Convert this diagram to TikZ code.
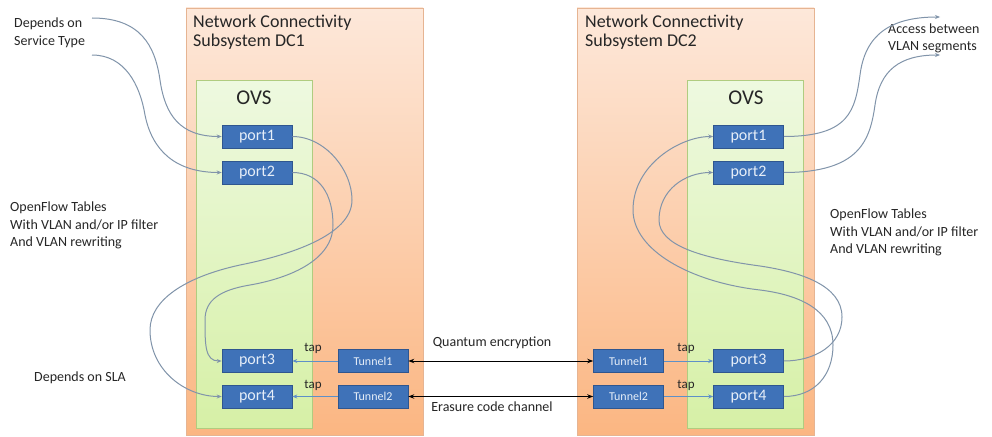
\documentclass[tikz,border=0pt]{standalone}
\usepackage{fontspec}
\setmainfont{Carlito}
\usetikzlibrary{arrows.meta}
\definecolor{portfill}{HTML}{3F72B8}
\definecolor{portline}{HTML}{2F568F}
\definecolor{porttext}{HTML}{E6EEF8}
\definecolor{flow}{HTML}{8194AA}
\definecolor{taplink}{HTML}{5E90C8}
\definecolor{ncstop}{HTML}{FDE8DA}
\definecolor{ncsbot}{HTML}{FBB682}
\definecolor{ncsline}{HTML}{E6B492}
\definecolor{ovstop}{HTML}{EEF9E0}
\definecolor{ovsbot}{HTML}{D6F0A6}
\definecolor{ovsline}{HTML}{B0CC80}
\tikzset{
  ncs/.style={draw=ncsline, line width=0.6pt, top color=ncstop, bottom color=ncsbot},
  ovs/.style={draw=ovsline, line width=0.8pt, top color=ovstop, bottom color=ovsbot},
  portbox/.style={draw=portline, fill=portfill, text=porttext, line width=0.6pt,
    minimum width=70pt, minimum height=23pt, inner sep=0pt,
    font=\fontsize{16}{18}\selectfont},
  tunbox/.style={portbox, font=\fontsize{12}{14}\selectfont},
  note/.style={align=left, inner sep=0pt, text=black!85, font=\fontsize{14}{17.5}\selectfont},
  title/.style={align=left, inner sep=0pt, text=black!85, font=\fontsize{18}{19}\selectfont},
  ovslabel/.style={inner sep=0pt, text=black!85, font=\fontsize{21}{23}\selectfont},
  taplabel/.style={inner sep=0pt, text=black!85, font=\fontsize{13}{15}\selectfont},
  flowline/.style={draw=flow, line width=1pt, -{Stealth[length=5pt,width=4pt]}},
  tapline/.style={draw=taplink, line width=1pt, -{Stealth[length=5pt,width=4pt]}},
  channel/.style={draw=black, line width=1pt,
    {Stealth[length=6pt,width=4.5pt]}-{Stealth[length=6pt,width=4.5pt]}}
}
\begin{document}
\begin{tikzpicture}[x=1pt, y=-1pt]
\useasboundingbox (0,0) rectangle (992,436);
\fill[white] (0,0) rectangle (992,436);

% subsystem and switch frames
\path[ncs] (186,8) rectangle (423,435);
\path[ncs] (577,8) rectangle (814,435);
\path[ovs] (196,80) rectangle (312,428);
\path[ovs] (687,80) rectangle (803,428);

% titles
\node[title, anchor=west] (t1) at (193,32.5) {Network Connectivity\\Subsystem DC1};
\node[title, anchor=west] (t2) at (585,32.5) {Network Connectivity\\Subsystem DC2};
\node[ovslabel] (ovs1) at (254,98) {OVS};
\node[ovslabel] (ovs2) at (746,98) {OVS};

% DC1 ports and tunnels
\node[portbox] (lp1) at (257,136.5) {port1};
\node[portbox] (lp2) at (257,172.5) {port2};
\node[portbox] (lp3) at (257,361) {port3};
\node[portbox] (lp4) at (257,396.5) {port4};
\node[tunbox] (lt1) at (373,361) {Tunnel1};
\node[tunbox] (lt2) at (373,396.5) {Tunnel2};

% DC2 ports and tunnels
\node[portbox] (rp1) at (748.5,136.5) {port1};
\node[portbox] (rp2) at (748.5,172.5) {port2};
\node[portbox] (rp3) at (748.5,361) {port3};
\node[portbox] (rp4) at (748.5,396.5) {port4};
\node[tunbox] (rt1) at (628.5,361) {Tunnel1};
\node[tunbox] (rt2) at (628.5,396.5) {Tunnel2};

% annotations
\node[note, anchor=west] (svc) at (14,33) {Depends on\\Service Type};
\node[note, anchor=west] (oft1) at (10,225.5) {OpenFlow Tables\\With VLAN and/or IP filter\\And VLAN rewriting};
\node[note, anchor=west] (oft2) at (830,232.5) {OpenFlow Tables\\With VLAN and/or IP filter\\And VLAN rewriting};
\node[note] (sla) at (80,378) {Depends on SLA};
\node[note, anchor=west] (acc) at (888,38.5) {Access between\\VLAN segments};
\node[note] (qe) at (492,343) {Quantum encryption};
\node[note] (ecc) at (492,407) {Erasure code channel};
\node[taplabel] (tap1) at (313,348) {tap};
\node[taplabel] (tap2) at (313,385) {tap};
\node[taplabel] (tap3) at (686,348) {tap};
\node[taplabel] (tap4) at (686,385) {tap};

% free ends of the service-type and VLAN-access lines
\coordinate (s1) at (92,18);
\coordinate (s2) at (92,55);
\coordinate (a1) at (940,17);
\coordinate (a2) at (940,55);

% service type into DC1 ports
\draw[flowline] (s1) .. controls (140,18) and (155,45) .. (160,80)
  .. controls (165,115) and (180,136.5) .. (lp1.west);
\draw[flowline] (s2) .. controls (125,55) and (140,85) .. (145,115)
  .. controls (152,150) and (175,172.5) .. (lp2.west);

% DC1 OpenFlow paths
\draw[flowline] (lp1.east) .. controls (325,136.5) and (352,170) .. (352,200)
  .. controls (352,235) and (290,255) .. (240,265)
  .. controls (185,277) and (150,300) .. (150,330)
  .. controls (150,370) and (185,396.5) .. (lp4.west);
\draw[flowline] (lp2.east) .. controls (320,172.5) and (333,195) .. (333,225)
  .. controls (333,260) and (290,278) .. (250,285)
  .. controls (220,290) and (205,300) .. (205,320)
  .. controls (205,345) and (205,361) .. (lp3.west);

% DC2 OpenFlow paths
\draw[flowline] (rp3.east) .. controls (815,361) and (842,345) .. (842,317)
  .. controls (842,285) and (800,272) .. (760,266)
  .. controls (700,258) and (659,245) .. (659,220)
  .. controls (659,190) and (685,172.5) .. (rp2.west);
\draw[flowline] (rp4.east) .. controls (815,396.5) and (833,375) .. (833,345)
  .. controls (833,310) and (800,295) .. (760,290)
  .. controls (690,282) and (633,250) .. (633,210)
  .. controls (633,165) and (680,136.5) .. (rp1.west);

% DC2 ports out to the VLAN segments
\draw[flowline] (rp1.east) .. controls (850,136.5) and (855,110) .. (860,75)
  .. controls (865,35) and (890,17) .. (a1);
\draw[flowline] (rp2.east) .. controls (860,172.5) and (870,140) .. (875,105)
  .. controls (880,70) and (900,55) .. (a2);

% tunnel taps
\draw[tapline] (lt1.west) -- (lp3.east);
\draw[tapline] (lt2.west) -- (lp4.east);
\draw[tapline] (rt1.east) -- (rp3.west);
\draw[tapline] (rt2.east) -- (rp4.west);

% inter-DC channels
\draw[channel] (lt1.east) -- (rt1.west);
\draw[channel] (lt2.east) -- (rt2.west);
\end{tikzpicture}
\end{document}
